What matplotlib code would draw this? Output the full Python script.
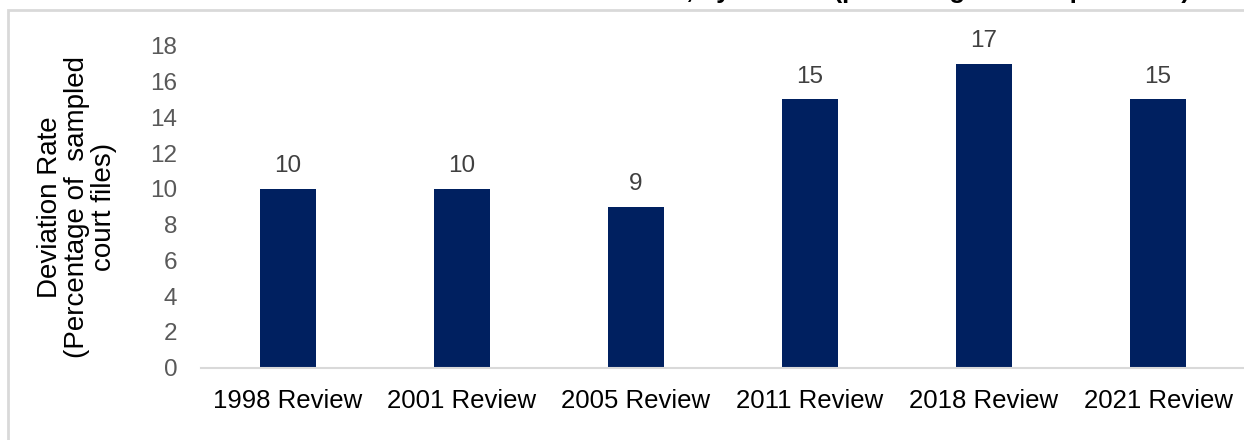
import matplotlib.pyplot as plt
from matplotlib.patches import Rectangle

plt.rcParams['font.family'] = ['Liberation Sans', 'DejaVu Sans']

reviews = ["1998 Review", "2001 Review", "2005 Review",
           "2011 Review", "2018 Review", "2021 Review"]
rates = [10, 10, 9, 15, 17, 15]
yticks = [0, 2, 4, 6, 8, 10, 12, 14, 16, 18]

fig = plt.figure(figsize=(12.44, 4.4), dpi=100)

# light grey frame around the chart area
fig.patches.append(Rectangle((8 / 1244, -0.1), 1.2, (430 / 440) + 0.1,
                             transform=fig.transFigure, fill=False,
                             edgecolor='#d9d9d9', linewidth=2))

# title sits mostly above the top edge, only descenders show
fig.text(1190 / 1244, 1 + 2 / 440,
         "Deviation Rate, by Review (percentage of sampled files)",
         ha='right', va='baseline', fontsize=18.5, fontweight='bold',
         color='black')

ax = fig.add_axes([201 / 1244, 72.3 / 440, 1044 / 1244, 322 / 440])
x = range(len(reviews))
bars = ax.bar(x, rates, width=0.32, color='#002060')
for b, v in zip(bars, rates):
    ax.text(b.get_x() + b.get_width() / 2, v + 0.65, str(v),
            ha='center', va='bottom', fontsize=17.5, color='#404040')

ax.set_xlim(-0.5, len(reviews) - 0.5)
ax.set_ylim(0, 18)
ax.set_yticks(yticks)
ax.set_xticks(list(x))
ax.set_xticklabels(reviews, fontsize=18.5, color='black')
ax.tick_params(axis='y', labelsize=17.5, labelcolor='#595959', length=0, pad=17)
ax.tick_params(axis='x', length=0, pad=15)
for s in ['top', 'right', 'left']:
    ax.spines[s].set_visible(False)
ax.spines['bottom'].set_color('#d9d9d9')
ax.spines['bottom'].set_linewidth(1.5)

ax.set_ylabel("Deviation Rate\n(Percentage of  sampled\ncourt files)",
              fontsize=20, color='black', linespacing=1.05, labelpad=24)

fig.savefig("out.png", dpi=100)
